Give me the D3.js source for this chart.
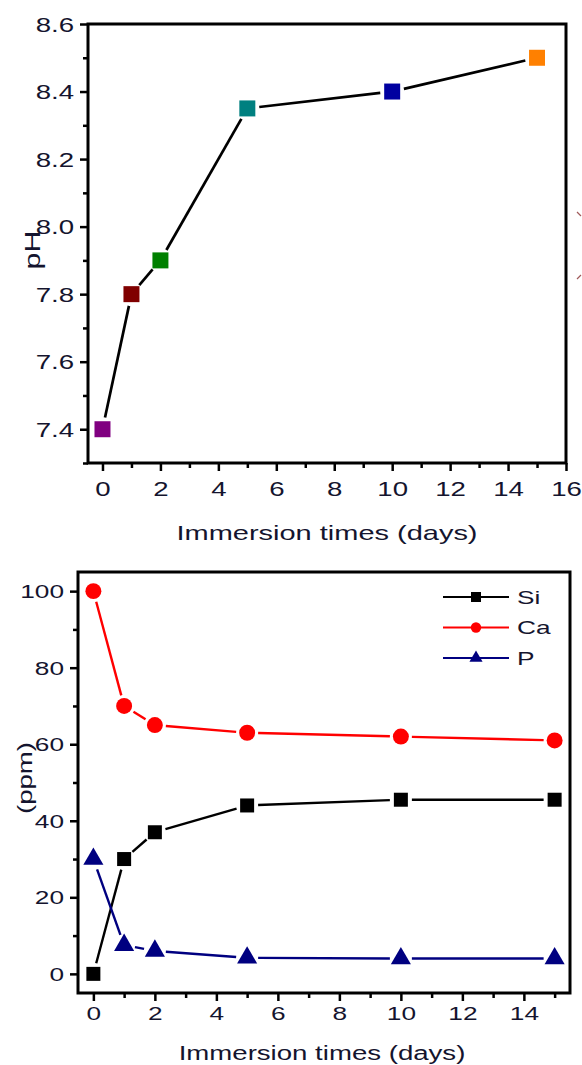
<!DOCTYPE html>
<html>
<head>
<meta charset="utf-8">
<script src="https://cdn.jsdelivr.net/npm/d3@7"></script>
<style>
  body { margin: 0; background: #fff; }
  svg text { font-family: Arial, "Liberation Sans", sans-serif; fill: #14142e; }
</style>
</head>
<body>
<svg id="chart" width="582" height="1065"></svg>
<script>
// immersion time (days) shared by both panels
const days = [0, 1, 2, 5, 10, 15];

// top panel: pH
const phValues = [7.4, 7.8, 7.9, 8.35, 8.4, 8.5];
const phColors = ['#800080', '#800000', '#008000', '#008080', '#0000a0', '#ff8000'];
const phTicks = [7.4, 7.6, 7.8, 8.0, 8.2, 8.4, 8.6];
const phMinor = [7.3, 7.5, 7.7, 7.9, 8.1, 8.3, 8.5];
const topDayTicks = [0, 2, 4, 6, 8, 10, 12, 14, 16];
const topDayMinor = [1, 3, 5, 7, 9, 11, 13, 15];

// bottom panel: ion concentration (ppm)
const siValues = [0, 30, 37, 44, 45.5, 45.5];
const caValues = [100, 70, 65, 63, 62, 61];
const pValues = [30, 7.5, 6, 4.2, 4, 4];
const ionNames = ['Si', 'Ca', 'P'];
const ppmTicks = [0, 20, 40, 60, 80, 100];
const ppmMinor = [10, 30, 50, 70, 90];
const bottomDayTicks = [0, 2, 4, 6, 8, 10, 12, 14];
const bottomDayMinor = [1, 3, 5, 7, 9, 11, 13, 15];

const STRETCH = 1.38; // the figure's lettering is stretched sideways
const svg = d3.select('#chart');

function stretchText(sel) {
  sel.each(function () {
    const t = d3.select(this);
    const x = +t.attr('x') || 0;
    const y = +t.attr('y') || 0;
    t.attr('x', 0).attr('y', 0)
      .attr('transform', `translate(${x},${y}) scale(${STRETCH},1)`);
  });
}

// draw a polyline as separate segments with a small gap at each marker
function gappedLine(g, pts, gap, color, width) {
  for (let i = 0; i < pts.length - 1; i++) {
    const [x1, y1] = pts[i];
    const [x2, y2] = pts[i + 1];
    const len = Math.hypot(x2 - x1, y2 - y1);
    if (len <= gap * 2) continue;
    const ux = (x2 - x1) / len;
    const uy = (y2 - y1) / len;
    g.append('line')
      .attr('x1', x1 + ux * gap).attr('y1', y1 + uy * gap)
      .attr('x2', x2 - ux * gap).attr('y2', y2 - uy * gap)
      .attr('stroke', color)
      .attr('stroke-width', width);
  }
}

function drawAxes(g, x, y, w, h, opts) {
  const yAxis = g.append('g')
    .call(d3.axisLeft(y).tickValues(opts.yTicks).tickSize(8).tickFormat(opts.yFormat));
  yAxis.select('.domain').remove();
  yAxis.selectAll('line').attr('stroke', '#000').attr('stroke-width', 2.5);
  yAxis.selectAll('text')
    .attr('x', -14).attr('dy', '0.35em')
    .style('font-size', opts.fontSize + 'px');
  yAxis.selectAll('text').call(stretchText);

  const yMinor = g.append('g')
    .call(d3.axisLeft(y).tickValues(opts.yMinor).tickSize(5).tickFormat(''));
  yMinor.select('.domain').remove();
  yMinor.selectAll('line').attr('stroke', '#000').attr('stroke-width', 2.5);

  const xAxis = g.append('g')
    .attr('transform', `translate(0,${h})`)
    .call(d3.axisBottom(x).tickValues(opts.xTicks).tickSize(8));
  xAxis.select('.domain').remove();
  xAxis.selectAll('line').attr('stroke', '#000').attr('stroke-width', 2.5);
  xAxis.selectAll('text')
    .attr('y', opts.xLabelGap).attr('dy', '0.71em')
    .style('font-size', opts.fontSize + 'px');
  xAxis.selectAll('text').call(stretchText);

  const xMinor = g.append('g')
    .attr('transform', `translate(0,${h})`)
    .call(d3.axisBottom(x).tickValues(opts.xMinor).tickSize(5).tickFormat(''));
  xMinor.select('.domain').remove();
  xMinor.selectAll('line').attr('stroke', '#000').attr('stroke-width', 2.5);

  g.append('rect')
    .attr('width', w).attr('height', h)
    .attr('fill', 'none')
    .attr('stroke', '#000')
    .attr('stroke-width', 3);
}

function axisTitle(x, y, text, size, rotate) {
  svg.append('text')
    .attr('text-anchor', 'middle')
    .attr('transform', `translate(${x},${y}) rotate(${rotate}) scale(${STRETCH},1)`)
    .style('font-size', size + 'px')
    .text(text);
}

// ---------- top panel ----------
{
  const m = { left: 88, top: 24 };
  const w = 478;
  const h = 439;
  const g = svg.append('g').attr('transform', `translate(${m.left},${m.top})`);
  const x = d3.scaleLinear().domain([-0.5, 16]).range([0, w]);
  const y = d3.scaleLinear().domain([7.3, 8.6]).range([h, 0]);

  drawAxes(g, x, y, w, h, {
    yTicks: phTicks, yMinor: phMinor, yFormat: d3.format('.1f'),
    xTicks: topDayTicks, xMinor: topDayMinor,
    fontSize: 20, xLabelGap: 19,
  });

  const pts = days.map((d, i) => [x(d), y(phValues[i])]);
  gappedLine(g, pts, 12, '#000', 2.7);

  g.selectAll('.ph')
    .data(days)
    .join('path')
    .attr('class', 'ph')
    .attr('transform', (d, i) => `translate(${x(d)},${y(phValues[i])})`)
    .attr('d', d3.symbol(d3.symbolSquare, 256))
    .attr('fill', (d, i) => phColors[i]);

  axisTitle(40, 250, 'pH', 22, -90);
  axisTitle(327, 540, 'Immersion times (days)', 21, 0);
}

// ---------- bottom panel ----------
{
  const m = { left: 78, top: 572 };
  const w = 492;
  const h = 421;
  const g = svg.append('g').attr('transform', `translate(${m.left},${m.top})`);
  const x = d3.scaleLinear().domain([-0.5, 15.5]).range([0, w]);
  const y = d3.scaleLinear().domain([-5, 105]).range([h, 0]);

  drawAxes(g, x, y, w, h, {
    yTicks: ppmTicks, yMinor: ppmMinor, yFormat: d3.format('d'),
    xTicks: bottomDayTicks, xMinor: bottomDayMinor,
    fontSize: 19, xLabelGap: 14,
  });

  const series = [
    { name: ionNames[0], values: siValues, color: '#000000', symbol: d3.symbolSquare, size: 196, legendSize: 100 },
    { name: ionNames[1], values: caValues, color: '#ff0000', symbol: d3.symbolCircle, size: 200, legendSize: 85 },
    { name: ionNames[2], values: pValues, color: '#000080', symbol: d3.symbolTriangle, size: 175, legendSize: 75 },
  ];

  series.forEach((s) => {
    const pts = days.map((d, i) => [x(d), y(s.values[i])]);
    gappedLine(g, pts, 11, s.color, 2.4);
    g.selectAll(null)
      .data(days)
      .join('path')
      .attr('transform', (d, i) => `translate(${x(d)},${y(s.values[i])})`)
      .attr('d', d3.symbol(s.symbol, s.size))
      .attr('fill', s.color);
  });

  // legend
  const legend = g.append('g').attr('transform', `translate(${443 - m.left},${597 - m.top})`);
  series.forEach((s, i) => {
    const row = legend.append('g').attr('transform', `translate(0,${i * 30.5})`);
    row.append('line')
      .attr('x1', 0).attr('x2', 66)
      .attr('stroke', s.color).attr('stroke-width', 2.2);
    row.append('path')
      .attr('transform', 'translate(33,0)')
      .attr('d', d3.symbol(s.symbol, s.legendSize))
      .attr('fill', s.color);
    row.append('text')
      .attr('transform', `translate(74,0) scale(${STRETCH},1)`)
      .attr('dy', '0.36em')
      .style('font-size', '19px')
      .text(s.name);
  });

  axisTitle(32, 778, '(ppm)', 20, -90);
  axisTitle(322, 1060, 'Immersion times (days)', 20, 0);
}

// cropped edge of a neighbouring panel label: only its two tips show
svg.append('path')
  .attr('d', 'M577,212 l4,4 M577,279 l4,-4')
  .attr('fill', 'none')
  .attr('stroke', '#a05a5a')
  .attr('stroke-width', 1.2);
</script>
</body>
</html>
